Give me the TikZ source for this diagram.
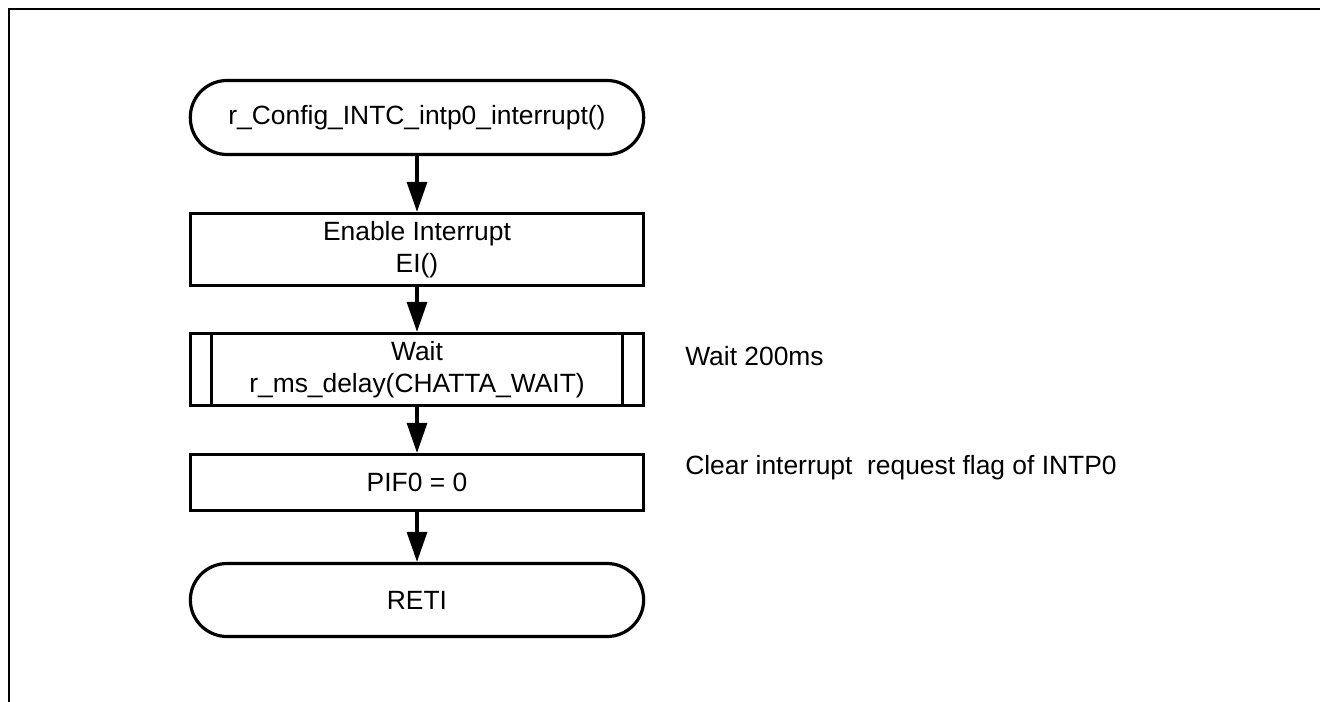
\documentclass[tikz,border=0pt]{standalone}
\usepackage{fontspec}
\setmainfont{Liberation Sans}
\usetikzlibrary{arrows.meta}
\begin{document}
\begin{tikzpicture}[x=0.75pt,y=-0.75pt,
  txt/.style={font=\fontsize{19.8}{24}\selectfont},
  base/.style={txt, draw, line width=2.4pt, minimum width=340pt, align=center, inner sep=0pt},
  term/.style={base, rounded corners=27.5pt, minimum height=#1},
  proc/.style={base, minimum height=#1},
  flow/.style={line width=2.4pt, -{Triangle[length=22.5pt,width=15pt]}},
  note/.style={txt, anchor=west, inner sep=0pt},
  frame/.style={line width=1.6pt}
]
\useasboundingbox (0,0) rectangle (1320,702);
\draw[frame] (9,702) -- (9,9) -- (1320,9);

\node[term=55.5pt] (start) at (417,117.5) {r\_Config\_INTC\_intp0\_interrupt()};
\node[proc=54pt] (ei) at (417,249.5) {Enable Interrupt\\EI()};
\node[proc=54pt] (wait) at (417,369.5) {Wait\\r\_ms\_delay(CHATTA\_WAIT)};
\draw[line width=2.4pt] ([xshift=17.25pt]wait.north west) -- ([xshift=17.25pt]wait.south west);
\draw[line width=2.4pt] ([xshift=-17.25pt]wait.north east) -- ([xshift=-17.25pt]wait.south east);
\node[proc=42pt] (pif) at (417,482.5) {PIF0 = 0};
\node[term=54.75pt] (reti) at (417,600) {RETI};

\node[note] (n1) at (685,356) {Wait 200ms};
\node[note] (n2) at (685,468) {Clear interrupt\ \ request flag of INTP0};

\draw[flow] (start) -- (ei);
\draw[flow] (ei) -- (wait);
\draw[flow] (wait) -- (pif);
\draw[flow] (pif) -- (reti);
\end{tikzpicture}
\end{document}
